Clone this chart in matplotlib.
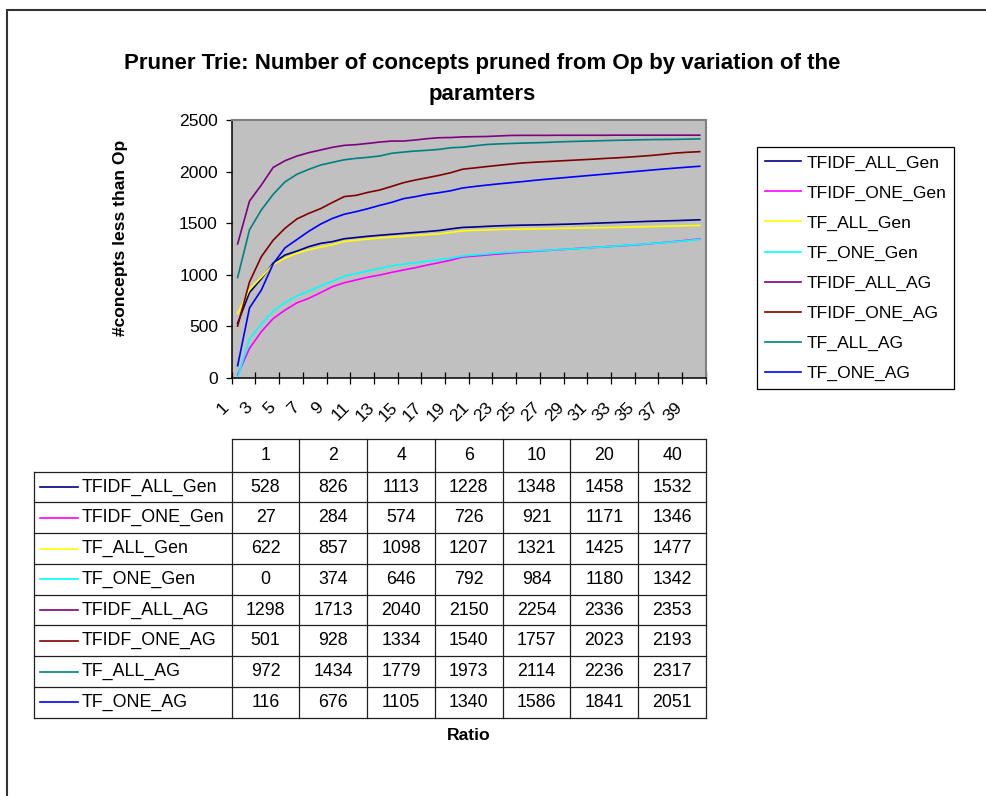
import numpy as np
import matplotlib
matplotlib.use('Agg')
import matplotlib.pyplot as plt
from matplotlib.patches import Rectangle
from matplotlib.transforms import ScaledTranslation

plt.rcParams['font.family'] = ['Liberation Sans', 'DejaVu Sans']

# ratio categories on the x axis and the ratios shown in the data table
ratio = list(range(1, 41))
table_ratios = [1, 2, 4, 6, 10, 20, 40]

names = ['TFIDF_ALL_Gen', 'TFIDF_ONE_Gen', 'TF_ALL_Gen', 'TF_ONE_Gen',
         'TFIDF_ALL_AG', 'TFIDF_ONE_AG', 'TF_ALL_AG', 'TF_ONE_AG']
colors = ['#000080', '#FF00FF', '#FFFF00', '#00FFFF',
          '#800080', '#800000', '#008080', '#0000FF']

tfidf_all_gen = [528, 826, 960, 1113, 1190, 1228, 1271, 1303, 1320, 1348,
                 1360, 1372, 1382, 1391, 1400, 1409, 1418, 1428, 1444, 1458,
                 1462, 1468, 1473, 1477, 1480, 1482, 1484, 1487, 1490, 1494,
                 1498, 1502, 1506, 1510, 1514, 1518, 1521, 1524, 1528, 1532]
tfidf_one_gen = [27, 284, 446, 574, 656, 726, 770, 825, 883, 921,
                 948, 975, 996, 1022, 1045, 1067, 1093, 1116, 1140, 1171,
                 1180, 1190, 1200, 1210, 1218, 1226, 1234, 1241, 1248, 1256,
                 1263, 1270, 1277, 1284, 1292, 1302, 1312, 1322, 1334, 1346]
tf_all_gen = [622, 857, 975, 1098, 1160, 1207, 1240, 1266, 1290, 1321,
              1333, 1345, 1355, 1364, 1372, 1380, 1388, 1396, 1410, 1425,
              1430, 1434, 1437, 1440, 1442, 1444, 1446, 1448, 1450, 1452,
              1454, 1456, 1458, 1461, 1464, 1467, 1470, 1472, 1475, 1477]
tf_one_gen = [0, 374, 520, 646, 730, 792, 840, 890, 935, 984,
              1010, 1035, 1060, 1085, 1100, 1115, 1130, 1145, 1160, 1180,
              1190, 1200, 1210, 1218, 1224, 1230, 1236, 1242, 1248, 1254,
              1262, 1270, 1278, 1286, 1294, 1302, 1311, 1320, 1331, 1342]
tfidf_all_ag = [1298, 1713, 1869, 2040, 2105, 2150, 2183, 2209, 2235, 2254,
                2261, 2273, 2286, 2296, 2296, 2306, 2319, 2328, 2330, 2336,
                2338, 2340, 2345, 2350, 2351, 2351, 2351, 2352, 2352, 2352,
                2352, 2352, 2353, 2353, 2353, 2353, 2353, 2353, 2353, 2353]
tfidf_one_ag = [501, 928, 1174, 1334, 1450, 1540, 1594, 1640, 1700, 1757,
                1769, 1798, 1821, 1856, 1892, 1918, 1940, 1963, 1989, 2023,
                2035, 2048, 2060, 2072, 2083, 2090, 2096, 2102, 2108, 2114,
                2120, 2127, 2133, 2140, 2148, 2157, 2168, 2180, 2187, 2193]
tf_all_ag = [972, 1434, 1627, 1779, 1900, 1973, 2021, 2063, 2089, 2114,
             2128, 2138, 2151, 2177, 2189, 2199, 2206, 2215, 2231, 2236,
             2250, 2262, 2268, 2272, 2276, 2279, 2282, 2287, 2291, 2294,
             2297, 2300, 2303, 2305, 2308, 2310, 2311, 2312, 2314, 2317]
tf_one_ag = [116, 676, 850, 1105, 1260, 1340, 1420, 1490, 1545, 1586,
             1611, 1640, 1672, 1701, 1737, 1756, 1779, 1795, 1814, 1841,
             1855, 1868, 1880, 1891, 1902, 1914, 1925, 1935, 1945, 1955,
             1965, 1975, 1985, 1995, 2005, 2015, 2025, 2034, 2043, 2051]

series = [tfidf_all_gen, tfidf_one_gen, tf_all_gen, tf_one_gen,
          tfidf_all_ag, tfidf_one_ag, tf_all_ag, tf_one_ag]

W, H = 987, 796


def fig_box(x0, y0, x1, y1):
    # pixel box (top-left origin) -> figure fraction rect
    return [x0 / W, 1 - y1 / H, (x1 - x0) / W, (y1 - y0) / H]


fig = plt.figure(figsize=(W / 100, H / 100), dpi=100)

# outer chart border
fig.add_artist(Rectangle((7.5 / W, -0.1), 1.2, 1 - 10.5 / H + 0.1,
                         transform=fig.transFigure, fill=False,
                         ec='#333333', lw=1.5))

ax = fig.add_axes(fig_box(231.7, 120, 705.7, 377.7))
ax.set_facecolor('#C0C0C0')
for vals, name, c in zip(series, names, colors):
    ax.plot(ratio, vals, color=c, lw=1.2, label=name)

ax.set_xlim(0.5, 40.5)
ax.set_ylim(0, 2500)
ax.set_yticks(np.arange(0, 2501, 500))
ax.set_xticks(np.arange(0.5, 41, 2))
ax.set_xticklabels([])
ax.set_xticks(ratio[::2], minor=True)
ax.set_xticklabels([str(r) for r in ratio[::2]], minor=True,
                   rotation=45, ha='center', va='top')
ax.tick_params(axis='x', which='major', direction='inout', length=8,
               width=0.9, color='black')
ax.tick_params(axis='x', which='minor', length=0, labelsize=12.6, pad=16)
ax.tick_params(axis='y', direction='out', length=4, width=0.9,
               labelsize=12.6, pad=6)
shift = ScaledTranslation(-15 / 100, 0, fig.dpi_scale_trans)
for lab in ax.get_xticklabels(minor=True):
    lab.set_transform(lab.get_transform() + shift)

for s in ['left', 'bottom']:
    ax.spines[s].set_color('black')
    ax.spines[s].set_linewidth(1.1)
for s in ['top', 'right']:
    ax.spines[s].set_color('#808080')
    ax.spines[s].set_linewidth(1.5)

ax.set_ylabel('#concepts less than Op', fontsize=12.6, fontweight='bold')
ax.yaxis.set_label_coords(-0.218, 0.542)

fig.text(482 / W, 1 - 79 / H,
         'Pruner Trie: Number of concepts pruned from Op by variation of the\nparamters',
         ha='center', va='center', fontsize=16, fontweight='bold',
         linespacing=1.65)

leg = ax.legend(loc='upper left', bbox_to_anchor=(756.7 / W, 1 - 147.3 / H),
                bbox_transform=fig.transFigure, fontsize=12.6, frameon=True,
                fancybox=False, edgecolor='black', framealpha=1,
                handlelength=2.1, handletextpad=0.3, labelspacing=0.84,
                borderpad=0.45, borderaxespad=0)
leg.get_frame().set_linewidth(0.9)

# data table below the chart
tax = fig.add_axes(fig_box(34.3, 439, 706, 718))
tax.set_xlim(34.3, 706)
tax.set_ylim(718, 439)
tax.axis('off')
col_edges = np.linspace(231.7, 706, len(table_ratios) + 1)
row_edges = np.linspace(471.7, 717.7, len(series) + 1)
lc = '#202020'
tax.plot([col_edges[0], col_edges[-1]], [439, 439], color=lc, lw=0.9, clip_on=False)
for y in row_edges:
    tax.plot([34.3, 706], [y, y], color=lc, lw=0.9, clip_on=False)
for x in col_edges:
    tax.plot([x, x], [439, 717.7], color=lc, lw=0.9, clip_on=False)
tax.plot([34.3, 34.3], [471.7, 717.7], color=lc, lw=0.9, clip_on=False)

col_mid = (col_edges[:-1] + col_edges[1:]) / 2
row_mid = (row_edges[:-1] + row_edges[1:]) / 2
for x, r in zip(col_mid, table_ratios):
    tax.text(x, 455.5, str(r), ha='center', va='center', fontsize=12.8)
for y, vals, name, c in zip(row_mid, series, names, colors):
    tax.plot([40, 78], [y, y], color=c, lw=1.2)
    tax.text(82, y, name, ha='left', va='center', fontsize=12.8)
    for x, r in zip(col_mid, table_ratios):
        tax.text(x, y, str(vals[r - 1]), ha='center', va='center', fontsize=12.8)

fig.text(469 / W, 1 - 735 / H, 'Ratio', ha='center', va='center',
         fontsize=12.6, fontweight='bold')

fig.savefig('out.png', dpi=100)
